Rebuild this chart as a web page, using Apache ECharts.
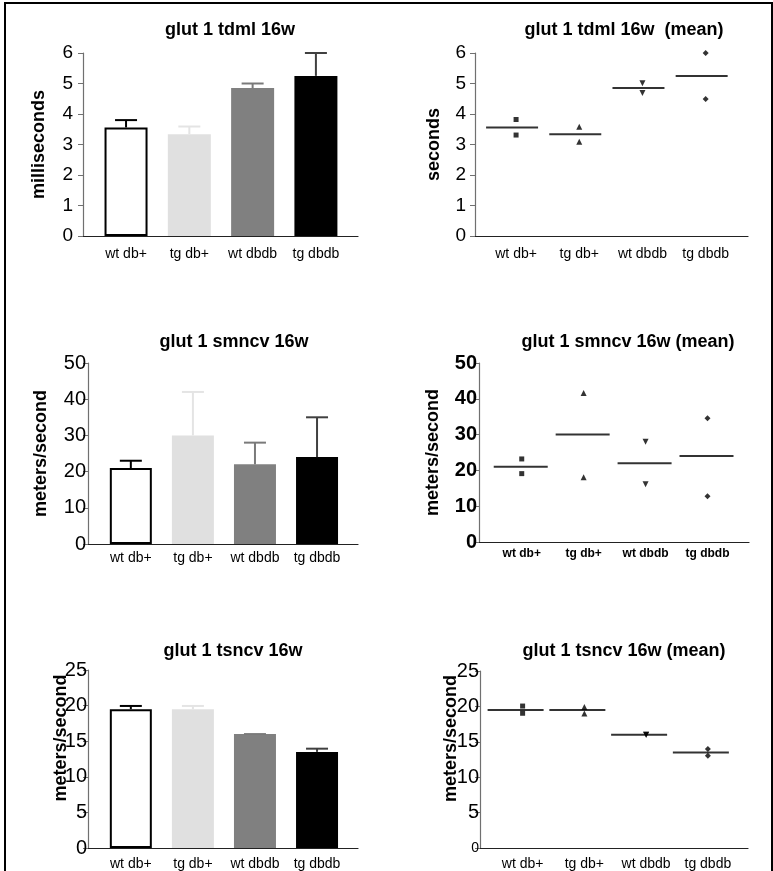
<!DOCTYPE html>
<html>
<head>
<meta charset="utf-8">
<script src="https://cdn.jsdelivr.net/npm/echarts@6/dist/echarts.min.js"></script>
<style>
  body { margin: 0; background: #fff; }
  #main { width: 773px; height: 871px; }
</style>
</head>
<body>
<div id="main"></div>
<script>
// groups on the x axis
const CATEGORIES = ['wt db+', 'tg db+', 'wt dbdb', 'tg dbdb'];

// tdml 16w
const TDML_MEAN = [3.56, 3.34, 4.85, 5.25];
const TDML_ERR_TOP = [3.80, 3.59, 5.00, 6.00];
const TDML_POINTS = [[3.82, 3.31], [3.58, 3.09], [5.01, 4.69], [6.00, 4.49]];
const TDML_TICKS = [0, 1, 2, 3, 4, 5, 6];

// smncv 16w
const SMNCV_MEAN = [21, 30, 22, 24];
const SMNCV_ERR_TOP = [23, 42, 28, 35];
const SMNCV_POINTS = [[23.2, 19.1], [41.6, 18.1], [28.0, 16.1], [34.6, 12.8]];
const SMNCV_TICKS = [0, 10, 20, 30, 40, 50];

// tsncv 16w
const TSNCV_MEAN = [19.5, 19.5, 16.0, 13.5];
const TSNCV_ERR_TOP = [19.95, 19.95, 16.0, 13.95];
const TSNCV_POINTS = [[20.05, 19.03], [19.9, 19.0], [16.0, 16.0], [13.98, 13.04]];
const TSNCV_TICKS = [0, 5, 10, 15, 20, 25];

// styles
const BAR_FILL = ['#ffffff', '#e0e0e0', '#808080', '#000000'];
const ERR_COLOR = ['#000000', '#e4e4e4', '#7a7a7a', '#404040'];
const PT_SYMBOL = ['rect', 'triangle', 'triangle', 'diamond'];
const PT_ROTATE = [0, 0, 180, 0];
const PT_SIZE = [5, 6, 6, 6];

const chart = echarts.init(document.getElementById('main'));

const grid = [], xAxis = [], yAxis = [], series = [], title = [];

function catLabel(v) {
    const r = Math.round(v);
    return Math.abs(v - r) < 1e-6 && CATEGORIES[r] !== undefined ? CATEGORIES[r] : '';
}

function addPanel(p) {
    const k = grid.length;
    grid.push(p.grid);
    title.push({
        text: p.title, left: p.titleX, top: p.titleY, textAlign: 'center',
        textStyle: { fontSize: 18, fontWeight: 'bold', color: '#000' }
    });
    xAxis.push({
        gridIndex: k, type: 'value', min: p.xMin, max: p.xMax,
        splitLine: { show: false },
        axisTick: { show: false },
        axisLine: { onZero: false, lineStyle: { color: '#222', width: 1.2 } },
        axisLabel: {
            formatter: catLabel, color: '#000', margin: p.xMargin,
            fontSize: p.xFont, fontWeight: p.xBold ? 'bold' : 'normal'
        }
    });
    yAxis.push({
        gridIndex: k, type: 'value',
        min: p.ticks[0], max: p.ticks[p.ticks.length - 1], interval: p.ticks[1] - p.ticks[0],
        splitLine: { show: false },
        axisLine: { show: true, onZero: false, lineStyle: { color: '#707070', width: 1.2 } },
        axisTick: { show: true, length: 5, lineStyle: { color: '#707070' } },
        axisLabel: {
            color: '#000', fontSize: p.yFont, fontWeight: p.yBold ? 'bold' : 'normal',
            margin: p.yMargin,
            formatter: p.smallZero ? function (v) { return v === 0 ? '{s|0}' : String(v); } : null,
            rich: { s: { fontSize: 14, color: '#000' } }
        },
        name: p.yName, nameLocation: 'middle', nameGap: p.nameGap, nameMoveOverlap: false,
        nameTextStyle: { fontSize: 18, fontWeight: 'bold', color: '#000', padding: p.namePad || 0 }
    });

    if (p.kind === 'bar') {
        series.push({
            type: 'bar', xAxisIndex: k, yAxisIndex: k, barWidth: p.barWidth,
            data: p.mean.map(function (v, i) {
                return {
                    value: [i, v],
                    itemStyle: {
                        color: BAR_FILL[i],
                        borderColor: '#000',
                        borderWidth: i === 0 ? 2 : 0
                    }
                };
            }),
            z: 2
        });
        series.push({
            type: 'custom', xAxisIndex: k, yAxisIndex: k,
            encode: { x: 0, y: [1, 2] },
            data: p.mean.map(function (v, i) { return [i, v, p.errTop[i]]; }),
            renderItem: function (params, api) {
                const i = api.value(0);
                const base = api.coord([i, api.value(1)]);
                const top = api.coord([i, api.value(2)]);
                const c = ERR_COLOR[params.dataIndex];
                return {
                    type: 'group',
                    children: [
                        { type: 'line', shape: { x1: base[0], y1: base[1], x2: top[0], y2: top[1] },
                          style: { stroke: c, lineWidth: 2 } },
                        { type: 'line', shape: { x1: top[0] - 11, y1: top[1], x2: top[0] + 11, y2: top[1] },
                          style: { stroke: c, lineWidth: 2 } }
                    ]
                };
            },
            z: 3
        });
    } else {
        series.push({
            type: 'scatter', xAxisIndex: k, yAxisIndex: k,
            symbol: 'rect', symbolSize: [p.lineWidth, 2], symbolOffset: [p.lineOffset, 0],
            itemStyle: { color: '#000' },
            data: p.mean.map(function (v, i) { return [i, v]; }),
            z: 2
        });
        p.points.forEach(function (pts, i) {
            series.push({
                type: 'scatter', xAxisIndex: k, yAxisIndex: k,
                symbol: PT_SYMBOL[i], symbolRotate: PT_ROTATE[i], symbolSize: PT_SIZE[i],
                itemStyle: { color: '#000' },
                data: pts.map(function (v) { return [i, v]; }),
                z: 3
            });
        });
    }
}

addPanel({
    kind: 'bar', title: 'glut 1 tdml 16w', titleX: 225, titleY: 16,
    grid: { left: 83, top: 53, width: 275, height: 183 }, xMin: -0.68, xMax: 3.665,
    ticks: TDML_TICKS, mean: TDML_MEAN, errTop: TDML_ERR_TOP, barWidth: 43,
    yName: 'milliseconds', nameGap: 35, yFont: 19, yMargin: 10, xFont: 14, xMargin: 11
});
addPanel({
    kind: 'mean', title: 'glut 1 tdml 16w  (mean)', titleX: 619, titleY: 16,
    grid: { left: 475, top: 53, width: 273, height: 183 }, xMin: -0.65, xMax: 3.67,
    ticks: TDML_TICKS, mean: TDML_MEAN, points: TDML_POINTS, lineWidth: 52, lineOffset: -4,
    yName: 'seconds', nameGap: 32, yFont: 19, yMargin: 9, xFont: 14, xMargin: 11
});
addPanel({
    kind: 'bar', title: 'glut 1 smncv 16w', titleX: 229, titleY: 328,
    grid: { left: 88, top: 363, width: 270, height: 181 }, xMin: -0.69, xMax: 3.66,
    ticks: SMNCV_TICKS, mean: SMNCV_MEAN, errTop: SMNCV_ERR_TOP, barWidth: 42,
    yName: 'meters/second', nameGap: 38, yFont: 20, yMargin: 2, xFont: 14, xMargin: 7
});
addPanel({
    kind: 'mean', title: 'glut 1 smncv 16w (mean)', titleX: 623, titleY: 328,
    grid: { left: 479, top: 363, width: 270, height: 179 }, xMin: -0.69, xMax: 3.67,
    ticks: SMNCV_TICKS, mean: SMNCV_MEAN, points: SMNCV_POINTS, lineWidth: 54, lineOffset: -1,
    yName: 'meters/second', nameGap: 37, yFont: 20, yBold: true, yMargin: 2,
    xFont: 12, xBold: true, xMargin: 6
});
addPanel({
    kind: 'bar', title: 'glut 1 tsncv 16w', titleX: 228, titleY: 637,
    grid: { left: 88, top: 670, width: 270, height: 179 }, xMin: -0.69, xMax: 3.66,
    ticks: TSNCV_TICKS, mean: TSNCV_MEAN, errTop: TSNCV_ERR_TOP, barWidth: 42,
    yName: 'meters/second', nameGap: 18, namePad: [0, 0, 0, 42], yFont: 20, yMargin: 1,
    xFont: 14, xMargin: 9
});
addPanel({
    kind: 'mean', title: 'glut 1 tsncv 16w (mean)', titleX: 619, titleY: 637,
    grid: { left: 480, top: 671, width: 268, height: 178 }, xMin: -0.69, xMax: 3.65,
    ticks: TSNCV_TICKS, mean: TSNCV_MEAN, points: TSNCV_POINTS, lineWidth: 56, lineOffset: -7,
    yName: 'meters/second', nameGap: 20, namePad: [0, 0, 0, 42], yFont: 20, yMargin: 1,
    smallZero: true, xFont: 14, xMargin: 9
});

chart.setOption({
    animation: false,
    backgroundColor: '#fff',
    textStyle: { fontFamily: 'Liberation Sans, Arial, sans-serif' },
    title: title,
    grid: grid,
    xAxis: xAxis,
    yAxis: yAxis,
    series: series,
    // page frame (open at the bottom, as in the scan)
    graphic: [{
        type: 'polyline', silent: true,
        shape: { points: [[5, 871], [5, 3], [772, 3], [772, 871]] },
        style: { stroke: '#000', lineWidth: 2, fill: null }
    }]
});
</script>
</body>
</html>
